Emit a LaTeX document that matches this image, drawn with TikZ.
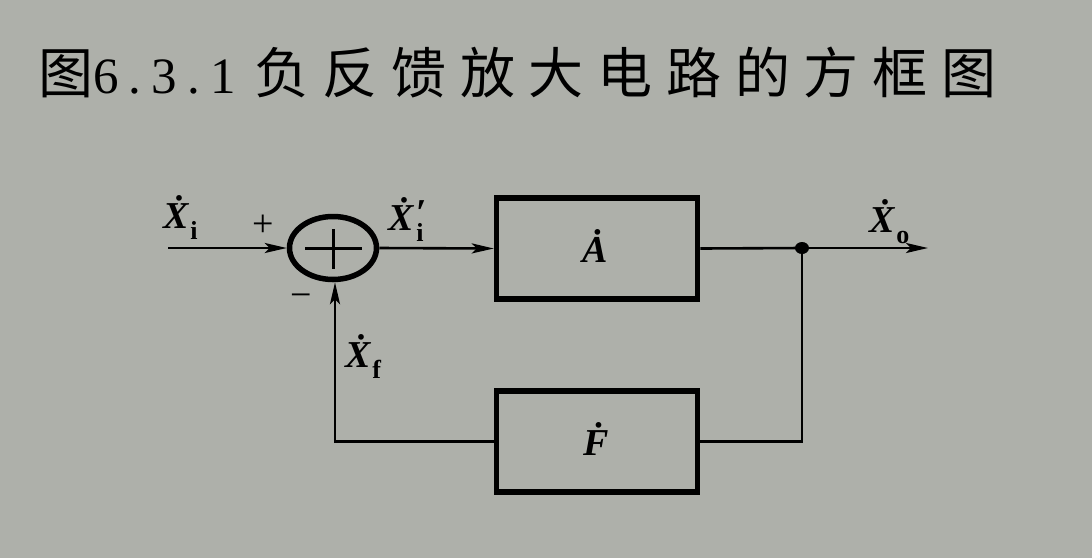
\documentclass[tikz,border=0pt]{standalone}
\usepackage{fontspec}
\setmainfont{Liberation Serif}
\newfontfamily\cjk[LetterSpace=25]{Noto Sans CJK SC}
\newfontfamily\cjkb{Noto Sans CJK SC}
\newfontfamily\tdig[LetterSpace=20]{Liberation Serif}
\usetikzlibrary{arrows.meta,shapes.geometric}
\definecolor{bgc}{RGB}{174,176,170}
\newcommand\subfont{\fontsize{26}{26}\selectfont\bfseries}
\newcommand\sigx[2]{\textbf{\textit{\.{#1}}}\hspace{1pt}\raisebox{-11pt}{\subfont #2}}
\newcommand\sigxp[2]{\textbf{\textit{\.{#1}}}\hspace{2pt}\rlap{\raisebox{-11pt}{\subfont #2}}\raisebox{5pt}{\textbf{′}}}
\begin{document}
\begin{tikzpicture}[x=1pt,y=-1pt,
  wire/.style={line width=2.6pt,draw=black},
  arr/.style={wire,-{Stealth[length=22pt,width=10pt,inset=5pt]}},
  blockbox/.style={draw=black,line width=5.5pt,minimum width=201pt,minimum height=101pt,inner sep=0pt},
  lbl/.style={anchor=base west,inner sep=0pt,font=\fontsize{38}{40}\selectfont},
  sgn/.style={inner sep=0pt,font=\fontsize{38}{40}\selectfont}]
\fill[bgc] (0,0) rectangle (1092,558);
\useasboundingbox (0,0) rectangle (1092,558);
% title
\node[anchor=base west,inner sep=0pt,font=\fontsize{55}{60}\selectfont] (title) at (38,93)
  {{\cjkb 图}{\fontsize{51}{52}\selectfont\tdig 6.3.1}\hspace{18pt}{\cjk 负反馈放大电路的方框图}};
% blocks
\node[blockbox] (A) at (597,248.5) {};
\node[lbl] (Alab) at (582,262) {\textbf{\textit{\.{A}}}};
\node[blockbox] (F) at (597,441.5) {};
\node[lbl] (Flab) at (583,455) {\textbf{\textit{\.{F}}}};
% summing junction
\node[ellipse,draw=black,line width=5.5pt,minimum width=87pt,minimum height=63pt,inner sep=0pt] (S) at (333,248) {};
\draw[line width=3pt] (305,248) -- (362,248);
\draw[line width=3pt] (333,229) -- (333,269);
% points
\coordinate (in) at (168,248);
\coordinate (J) at (802,248);
\coordinate (out) at (928,248);
\coordinate (Jd) at (802,441.5);
\coordinate (Fl) at (335,441.5);
\fill (J) ellipse (7pt and 6pt);
% connectors
\draw[arr] (in) -- (S.west);
\draw[arr] (S.east) -- (A.west);
\draw[wire] (A.east) -- (J);
\draw[arr] (J) -- (out);
\draw[wire] (J) -- (Jd) -- (F.east);
\draw[arr] (F.west) -- (Fl) -- (Fl |- S.south);
% labels
\node[lbl] (xi) at (163,228) {\sigx{X}{i}};
\node[sgn] (plus) at (263,226) {+};
\node[lbl] (xip) at (388,230) {\sigxp{X}{i}};
\node[sgn] (minus) at (301,301) {−};
\node[lbl] (xf) at (345,367) {\sigx{X}{f}};
\node[lbl] (xo) at (869,232) {\sigx{X}{o}};
\end{tikzpicture}
\end{document}
